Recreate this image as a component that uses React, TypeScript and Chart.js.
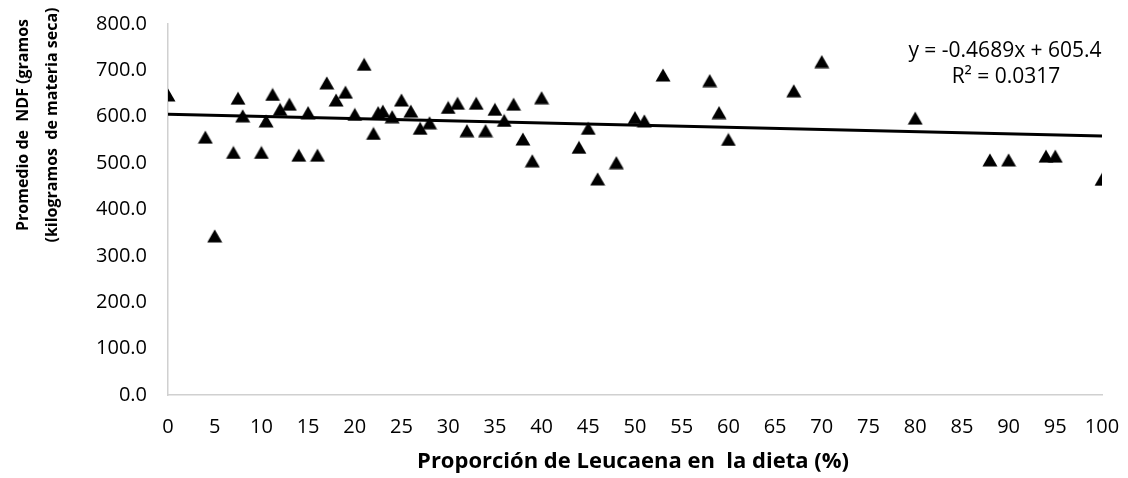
import React, { useEffect, useRef } from "react";
import { Chart, registerables } from "chart.js";

Chart.register(...registerables);

const xValues = [0, 4, 5, 7, 7.5, 8, 10, 10.5, 11.2, 12, 13, 14, 15, 16, 17, 18, 19, 20, 21, 22, 22.5, 23, 24, 25, 26, 27, 28, 30, 31, 32, 33, 34, 35, 36, 37, 38, 39, 40, 44, 45, 46, 48, 50, 51, 53, 58, 59, 60, 67, 70, 80, 88, 90, 94, 95, 100];
const yValues = [647, 556, 343, 523, 640, 602, 523, 591, 648, 616, 627, 517, 609, 517, 673, 636, 653, 605, 713, 564, 609, 612, 600, 636, 612, 575, 587, 620, 629, 570, 629, 570, 616, 592, 627, 552, 505, 641, 534, 575, 466, 501, 598, 591, 690, 678, 609, 551, 656, 719, 597, 507, 507, 515, 515, 465];

const trendSlope = -0.4689;
const trendIntercept = 605.4;
const trendX = [0, 100];

const xTitle = "Proporción de Leucaena en  la dieta (%)";
const yTitleLines = ["Promedio de  NDF (gramos", "(kilogramos  de materia seca)"];
const eqLines = ["y = -0.4689x + 605.4", "R² = 0.0317"];

function makeTriangle(): HTMLCanvasElement {
  const c = document.createElement("canvas");
  c.width = 16;
  c.height = 14;
  const g = c.getContext("2d")!;
  g.fillStyle = "#000";
  g.beginPath();
  g.moveTo(8, 0.5);
  g.lineTo(15.5, 13.5);
  g.lineTo(0.5, 13.5);
  g.closePath();
  g.fill();
  return c;
}

const textPlugin = {
  id: "textPlugin",
  afterDraw(chart: any) {
    const ctx = chart.ctx;
    ctx.save();
    ctx.fillStyle = "#000";
    ctx.textAlign = "center";
    ctx.textBaseline = "middle";
    ctx.font = 'bold 22px "Open Sans"';
    ctx.fillText(xTitle, 633, 462);
    ctx.save();
    ctx.translate(23, 125);
    ctx.rotate(-Math.PI / 2);
    ctx.font = 'bold 16px "Open Sans"';
    ctx.fillText(yTitleLines[0], 0, 0);
    ctx.restore();
    ctx.save();
    ctx.translate(52, 125);
    ctx.rotate(-Math.PI / 2);
    ctx.font = 'bold 16px "Open Sans"';
    ctx.fillText(yTitleLines[1], 0, 0);
    ctx.restore();
    ctx.font = '21px "Open Sans"';
    ctx.textBaseline = "alphabetic";
    ctx.fillText(eqLines[0], 1005, 57);
    ctx.fillText(eqLines[1], 1006, 83);
    ctx.restore();
  },
};

export default function App() {
  const ref = useRef<HTMLCanvasElement>(null);
  useEffect(() => {
    const tri = makeTriangle();
    const points = xValues.map((x, i) => ({ x, y: yValues[i] }));
    const trend = trendX.map((x) => ({ x, y: trendSlope * x + trendIntercept }));
    const chart = new Chart(ref.current!, {
      type: "scatter",
      data: {
        datasets: [
          {
            data: trend,
            type: "line",
            showLine: true,
            borderColor: "#000",
            borderWidth: 3,
            pointRadius: 0,
            fill: false,
          } as any,
          {
            data: points,
            pointStyle: tri as any,
            pointRadius: 8,
            backgroundColor: "#000",
            borderColor: "#000",
          },
        ],
      },
      options: {
        animation: false,
        responsive: false,
        devicePixelRatio: 1,
        layout: { padding: { left: 0, right: 26, top: 24, bottom: 0 } },
        plugins: { legend: { display: false }, tooltip: { enabled: false } },
        scales: {
          x: {
            type: "linear",
            min: 0,
            max: 100,
            afterFit: (s: any) => {
              s.height = 83;
              s.paddingLeft = 0;
              s.paddingRight = 0;
            },
            ticks: {
              stepSize: 5,
              padding: 20,
              color: "#000",
              font: { family: "Open Sans", size: 20 },
            },
            grid: { display: false, drawTicks: false },
            border: { color: "#d0d0d0", width: 1.5 },
          },
          y: {
            min: 0,
            max: 800,
            afterFit: (s: any) => {
              s.width = 168;
              s.paddingTop = 0;
              s.paddingBottom = 0;
            },
            ticks: {
              stepSize: 100,
              padding: 21,
              color: "#000",
              font: { family: "Open Sans", size: 20 },
              callback: (v: any) => Number(v).toFixed(1),
            },
            grid: { display: false, drawTicks: false },
            border: { color: "#d0d0d0", width: 1.5 },
          },
        },
      },
      plugins: [textPlugin],
    });
    return () => chart.destroy();
  }, []);
  return (
    <div style={{ position: "fixed", left: 0, top: 0, width: 1128, height: 478, background: "#fff" }}>
      <canvas ref={ref} width={1128} height={478} style={{ width: 1128, height: 478 }} />
    </div>
  );
}
